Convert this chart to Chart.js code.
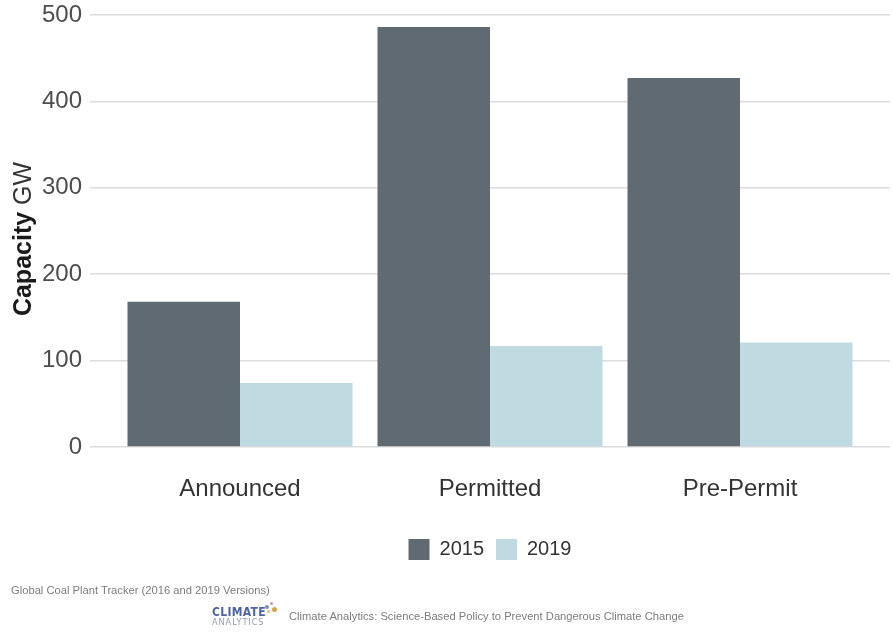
<!DOCTYPE html>
<html><head><meta charset="utf-8">
<script src="https://cdn.jsdelivr.net/npm/chart.js@4"></script>
<style>
html,body{margin:0;padding:0;background:#fff;}
#wrap{position:relative;width:893px;height:633px;overflow:hidden;}
canvas{display:block;}
.foot{position:absolute;font-family:'Liberation Sans',Arial,sans-serif;font-size:11.2px;color:#7d7d7d;white-space:nowrap;line-height:13px;}
.dot{position:absolute;border-radius:50%;}
</style></head><body>
<div id="wrap">
<canvas id="c" width="893" height="633"></canvas>
<div class="foot" style="left:11px;top:584px;">Global Coal Plant Tracker (2016 and 2019 Versions)</div>
<div style="position:absolute;left:212px;top:606px;font-family:'Liberation Sans Narrow','DejaVu Sans Condensed',Arial,sans-serif;white-space:nowrap;">
  <div style="font-size:12px;font-weight:bold;color:#4d63a3;letter-spacing:0.3px;line-height:12px;">CLIMATE</div>
  <div style="font-size:9px;color:#8d9bb8;letter-spacing:1px;line-height:9px;">ANALYTICS</div>
</div>
<div class="dot" style="left:265px;top:605px;width:4px;height:4px;background:#7b8fc4;"></div>
<div class="dot" style="left:270px;top:602px;width:3px;height:3px;background:#c58fb8;"></div>
<div class="dot" style="left:272px;top:607px;width:5px;height:5px;background:#d9a449;"></div>
<div class="dot" style="left:267px;top:610px;width:3px;height:3px;background:#e0c06a;"></div>
<div class="foot" style="left:289px;top:610px;">Climate Analytics: Science-Based Policy to Prevent Dangerous Climate Change</div>
</div>
<script>
const categories = ['Announced', 'Permitted', 'Pre-Permit'];
const seriesNames = ['2015', '2019'];
const values2015 = [168, 486, 427];
const values2019 = [74, 117, 121];
const yTickValues = [0, 100, 200, 300, 400, 500];
const colors = ['#5f6a72', '#bfdbe1'];

const FONT = "'Liberation Sans', Arial, sans-serif";

const toPoints = vals => vals.map((v, i) => ({ x: i + 1, y: v }));

const yTitlePlugin = {
  id: 'yTitle',
  afterDraw(chart) {
    const ctx = chart.ctx;
    const ca = chart.chartArea;
    const cy = (ca.top + ca.bottom) / 2 + 8;
    ctx.save();
    ctx.translate(31, cy);
    ctx.rotate(-Math.PI / 2);
    ctx.textBaseline = 'alphabetic';
    ctx.textAlign = 'left';
    ctx.font = 'bold 25px ' + FONT;
    const w1 = ctx.measureText('Capacity').width;
    ctx.font = '25px ' + FONT;
    const w2 = ctx.measureText(' GW').width;
    const start = -(w1 + w2) / 2;
    ctx.font = 'bold 25px ' + FONT;
    ctx.fillStyle = '#1a1a1a';
    ctx.fillText('Capacity', start, 0);
    ctx.font = '25px ' + FONT;
    ctx.fillStyle = '#333333';
    ctx.fillText(' GW', start + w1, 0);
    ctx.restore();
  }
};

new Chart(document.getElementById('c'), {
  type: 'bar',
  data: {
    datasets: [
      { label: seriesNames[0], data: toPoints(values2015), backgroundColor: colors[0], borderWidth: 0 },
      { label: seriesNames[1], data: toPoints(values2019), backgroundColor: colors[1], borderWidth: 0 }
    ]
  },
  options: {
    responsive: false,
    animation: false,
    devicePixelRatio: 1,
    layout: { padding: { top: 15, right: 3, bottom: 63, left: 0 } },
    datasets: { bar: { categoryPercentage: 0.9, barPercentage: 1.0 } },
    plugins: {
      tooltip: { enabled: false },
      legend: {
        position: 'bottom',
        fullSize: false,
        labels: {
          boxWidth: 21, boxHeight: 21, padding: 12,
          color: '#333333',
          font: { family: FONT, size: 20 }
        }
      }
    },
    scales: {
      x: {
        type: 'linear',
        offset: false,
        min: 0.4, max: 3.6,
        grid: { display: false, drawTicks: false, offset: false },
        border: { display: false },
        afterBuildTicks(scale) { scale.ticks = categories.map((c, i) => ({ value: i + 1 })); },
        afterFit(scale) { scale.height = 80; scale.paddingLeft = 0; scale.paddingRight = 0; },
        ticks: {
          autoSkip: false, maxRotation: 0, padding: 28,
          color: '#333333',
          font: { family: FONT, size: 24 },
          callback: v => categories[Math.round(v) - 1]
        }
      },
      y: {
        min: 0, max: 500,
        grid: { color: '#dcdcdc', lineWidth: 1.5, drawTicks: false },
        border: { display: false },
        afterBuildTicks(scale) { scale.ticks = yTickValues.map(v => ({ value: v })); },
        afterFit(scale) { scale.width = 90; scale.paddingTop = 0; scale.paddingBottom = 0; },
        ticks: {
          padding: 8,
          color: '#4d4d4d',
          font: { family: FONT, size: 24 }
        }
      }
    }
  },
  plugins: [yTitlePlugin]
});
</script>
</body></html>
